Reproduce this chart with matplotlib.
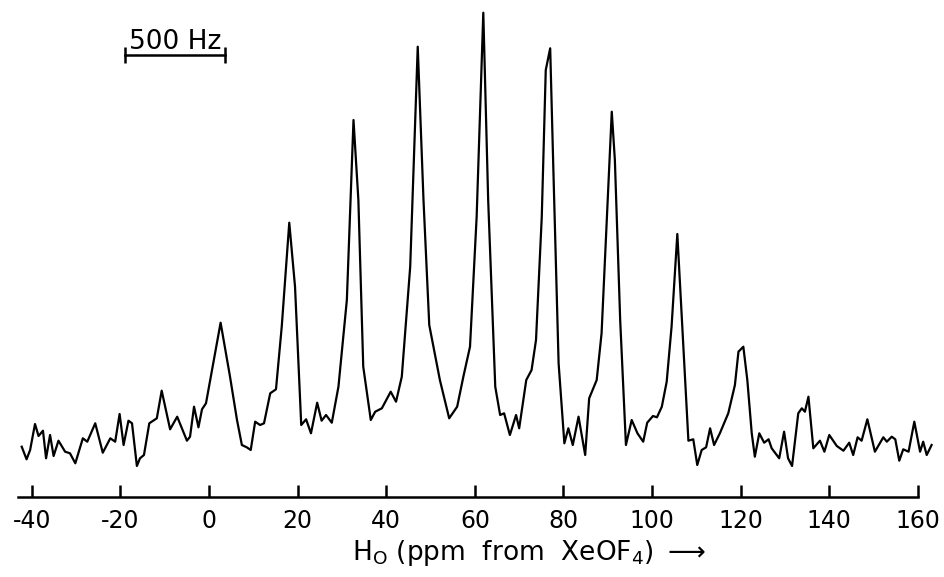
import matplotlib
matplotlib.use("Agg")
import matplotlib.pyplot as plt
import numpy as np

plt.rcParams['font.family'] = ['DejaVu Sans']
plt.rcParams['mathtext.fontset'] = 'dejavusans'
plt.rcParams['axes.unicode_minus'] = False

# Spectrum trace: chemical shift (ppm) and signal (arb. units)
shift_ppm = [
    -42.3, -41.2, -40.4, -39.3, -38.5, -37.5, -36.8, -35.9, -35.1, -34.0,
    -32.5, -31.4, -30.2, -28.5, -27.5, -25.7, -24.0, -22.3, -21.2, -20.2,
    -19.3, -18.2, -17.4, -16.3, -15.6, -14.7, -13.5, -11.8, -10.7, -8.8,
    -7.2, -5.0, -4.3, -3.4, -2.4, -1.6, -0.7, 2.6, 4.7, 6.3,
    7.4, 8.5, 9.4, 10.4, 11.5, 12.4, 13.8, 15.1, 16.4, 18.1,
    19.4, 20.8, 21.9, 23.0, 24.4, 25.4, 26.4, 27.7, 29.2, 31.1,
    32.6, 33.7, 34.8, 36.5, 37.5, 39.0, 41.0, 42.2, 43.5, 45.4,
    47.1, 48.4, 49.7, 52.1, 54.2, 56.0, 57.4, 58.9, 60.4, 61.9,
    63.0, 64.6, 65.7, 66.6, 67.9, 69.3, 70.0, 71.6, 72.8, 73.8,
    75.1, 76.0, 77.0, 77.7, 78.9, 80.2, 81.1, 82.1, 83.4, 84.9,
    85.8, 87.5, 88.6, 90.9, 91.6, 92.8, 94.1, 95.4, 96.7, 98.0,
    98.9, 100.2, 101.1, 102.2, 103.3, 104.4, 105.7, 106.9, 108.2, 109.3,
    110.2, 111.2, 112.2, 113.1, 114.0, 115.3, 117.2, 118.7, 119.5, 120.6,
    121.5, 122.5, 123.2, 124.2, 125.3, 126.3, 127.0, 128.7, 129.8, 130.7,
    131.6, 133.0, 133.8, 134.5, 135.3, 136.4, 137.9, 138.9, 140.0, 141.7,
    143.2, 144.5, 145.4, 146.4, 147.3, 148.6, 150.3, 152.2, 153.0, 154.1,
    154.9, 155.8, 156.7, 157.9, 159.2, 160.5, 161.2, 162.0, 163.1,
]
signal = [
    23.3, 10.7, 20, 46, 34, 39.3, 11.7, 35, 14, 29.3,
    18.3, 16.7, 6.7, 31.7, 28.3, 46.7, 17.3, 31.7, 28.3, 56,
    25, 49.3, 46.7, 4, 11.7, 15, 46.7, 51.7, 79.3, 40.7,
    53.3, 29.3, 33.3, 63.3, 42.7, 60.7, 66.7, 147.3, 94, 50,
    25, 22.7, 20, 48.3, 45, 46.7, 76.7, 80.7, 143.3, 247.3,
    183.3, 45, 50.7, 36.7, 67.3, 49.3, 55, 47.3, 83.3, 170,
    350, 270, 103.3, 50, 58.3, 61.7, 78.3, 68.3, 93.3, 203.3,
    423.3, 270, 145, 90, 51.7, 63.3, 93.3, 123.3, 253.3, 457.3,
    270, 83.3, 55, 56.7, 35, 55, 41.7, 90, 100, 130,
    253.3, 400, 421.7, 303.3, 106.7, 26.7, 41.7, 25, 53.3, 15,
    71.7, 90, 136.7, 358.3, 310, 150, 25, 50, 36.7, 28.3,
    47.3, 54, 52.7, 63.3, 88.3, 143.3, 236, 136.7, 29.3, 30.7,
    5, 20, 22.7, 41.7, 25, 36.7, 56.7, 85, 118.3, 123.3,
    90, 36.7, 13.3, 36.7, 27.3, 30.7, 21.7, 11.7, 38.3, 11.7,
    4, 56.7, 61.7, 58.3, 73.3, 21.7, 29.3, 18.3, 35, 24,
    19.3, 27.3, 15, 32.7, 29.3, 50.7, 18.3, 32.7, 28.3, 33.3,
    30.7, 9.3, 20.7, 18.3, 48.3, 18.3, 28.3, 15, 25,
]

tick_values = [-40, -20, 0, 20, 40, 60, 80, 100, 120, 140, 160]

# 500 Hz scale bar, in ppm
bar_start, bar_end = -19.0, 3.6

fig = plt.figure(figsize=(9.44, 5.77), dpi=100)
ax = fig.add_axes([0, 0, 1, 1])

ax.plot(shift_ppm, signal, color='black', lw=1.6, solid_joinstyle='round')

ax.set_xlim(-47.2, 165.9)
ax.set_ylim(-107, 470)

# axis line with upward ticks under the trace
for s in ['top', 'right', 'left']:
    ax.spines[s].set_visible(False)
ax.spines['bottom'].set_position(('data', -27))
ax.spines['bottom'].set_bounds(-43.2, 160)
ax.spines['bottom'].set_linewidth(1.8)
ax.set_xticks(tick_values)
ax.set_xticklabels([str(t) for t in tick_values])
ax.tick_params(axis='x', direction='in', length=9, width=1.8, pad=9, labelsize=17)
ax.set_yticks([])
ax.patch.set_alpha(0)

# scale bar
ax.plot([bar_start, bar_end], [415, 415], color='black', lw=1.8)
ax.plot([bar_start, bar_end], [415, 415], color='black', lw=0, marker='|',
        markersize=11, markeredgewidth=1.8)
ax.text((bar_start + bar_end) / 2, 421, '500 Hz', ha='center', va='baseline', fontsize=19)

fig.text(352 / 944, 1 - 560 / 577, r'H$_\mathrm{O}$ (ppm  from  XeOF$_4$) $\longrightarrow$',
         ha='left', va='baseline', fontsize=19)

fig.savefig('out.png', dpi=100)
